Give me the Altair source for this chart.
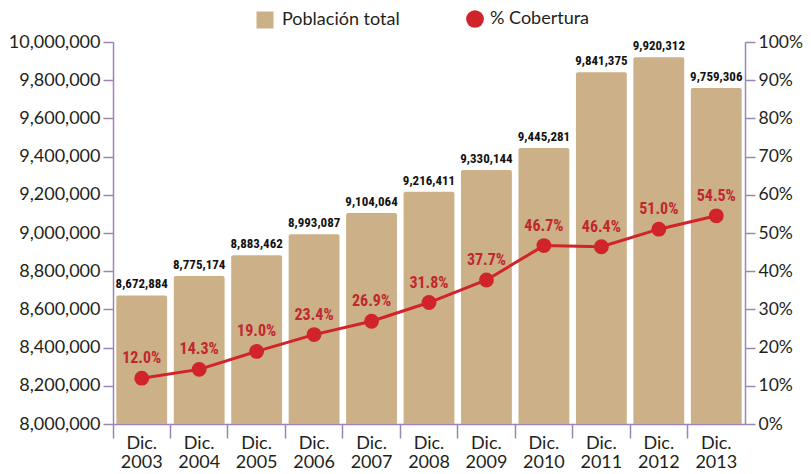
import altair as alt
import pandas as pd

years = ["2003", "2004", "2005", "2006", "2007", "2008", "2009", "2010", "2011", "2012", "2013"]
poblacion = [8672884, 8775174, 8883462, 8993087, 9104064, 9216411, 9330144, 9445281, 9841375, 9920312, 9759306]
cobertura = [12.0, 14.3, 19.0, 23.4, 26.9, 31.8, 37.7, 46.7, 46.4, 51.0, 54.5]
left_ticks = list(range(8000000, 10000001, 200000))
right_ticks = list(range(0, 101, 10))
base_value = 8000000

df = pd.DataFrame({
    "periodo": ["Dic. " + y for y in years],
    "poblacion": poblacion,
    "cobertura": cobertura,
    "serie_bar": "Población total",
    "serie_line": "% Cobertura",
})

AXIS_COLOR = "#9A86B3"
BAR_COLOR = "#CBB088"
RED = "#D1232A"
RED_TEXT = "#C1272D"
FONT = "Lato"
NARROW = "'Roboto Condensed', 'Roboto', sans-serif"

x = alt.X(
    "periodo:N", sort=None, title=None,
    scale=alt.Scale(paddingInner=0, paddingOuter=0),
    axis=alt.Axis(
        labelAngle=0, labelExpr="split(datum.label, ' ')", bandPosition=0,
        tickSize=14, tickColor=AXIS_COLOR, domainColor=AXIS_COLOR,
        tickWidth=1.5, domainWidth=1.5,
        labelFont=FONT, labelFontSize=18, labelColor="#231F20",
        labelPadding=-4, labelLineHeight=19,
    ),
)

y_left = alt.Y(
    "poblacion:Q", title=None,
    scale=alt.Scale(domain=[8000000, 10000000], zero=False, nice=False),
    axis=alt.Axis(
        orient="left", values=left_ticks, labelExpr="format(datum.value, ',')", grid=False,
        tickSize=10, tickColor=AXIS_COLOR, domainColor=AXIS_COLOR,
        tickWidth=1.5, domainWidth=1.5,
        labelFont=FONT, labelFontSize=18, labelColor="#231F20", labelPadding=3,
    ),
)

y_right = alt.Y(
    "cobertura:Q", title=None,
    scale=alt.Scale(domain=[0, 100], nice=False),
    axis=alt.Axis(
        orient="right", values=right_ticks, labelExpr="datum.value + '%'", grid=False,
        tickSize=10, tickColor=AXIS_COLOR, domainColor=AXIS_COLOR,
        tickWidth=1.5, domainWidth=1.5,
        labelFont=FONT, labelFontSize=17.5, labelColor="#231F20", labelPadding=3,
    ),
)

base = alt.Chart(df)

bars = base.mark_bar(width={"band": 0.885}, cornerRadiusTopLeft=2, cornerRadiusTopRight=2).encode(
    x=x,
    y=y_left,
    y2=alt.datum(base_value),
    color=alt.Color(
        "serie_bar:N", scale=alt.Scale(range=[BAR_COLOR]), title=None,
        legend=alt.Legend(
            orient="none", legendX=143, legendY=-31, symbolType="square", symbolSize=289,
            symbolStrokeWidth=0, labelFont=FONT, labelFontSize=18, labelColor="#231F20",
            labelOffset=8, padding=0, labelLimit=200,
        ),
    ),
)

bar_text = base.mark_text(
    baseline="bottom", dy=-4, font=NARROW, fontWeight="bold", fontSize=13, color="#111111"
).encode(x=x, y=y_left, text=alt.Text("poblacion:Q", format=","))

left = alt.layer(bars, bar_text)

line = base.mark_line(color=RED, strokeWidth=3).encode(x=x, y=y_right)

points = base.mark_point(filled=True, opacity=1, size=220, shape="circle").encode(
    x=x,
    y=y_right,
    color=alt.Color(
        "serie_line:N", scale=alt.Scale(range=[RED]), title=None,
        legend=alt.Legend(
            orient="none", legendX=353, legendY=-32, symbolType="circle", symbolSize=314,
            symbolStrokeWidth=0, symbolOpacity=1, labelFont=FONT, labelFontSize=18,
            labelColor="#231F20", labelOffset=6, padding=0, labelLimit=200,
        ),
    ),
)

pct_text = base.transform_calculate(
    lbl="format(datum.cobertura, '.1f') + '%'"
).mark_text(
    baseline="middle", dy=-20, font=NARROW, fontWeight="bold", fontSize=16, color=RED_TEXT
).encode(x=x, y=y_right, text="lbl:N")

right = alt.layer(line, points, pct_text)

chart = alt.layer(left, right).resolve_scale(y="independent", color="independent").properties(
    width=632, height=382,
    autosize=alt.AutoSizeParams(type="none"),
    padding={"left": 105, "top": 34, "right": 58, "bottom": 50},
    background="white",
).configure_view(stroke=None)

chart.save("out.html", embed_options={"renderer": "svg", "actions": False})
